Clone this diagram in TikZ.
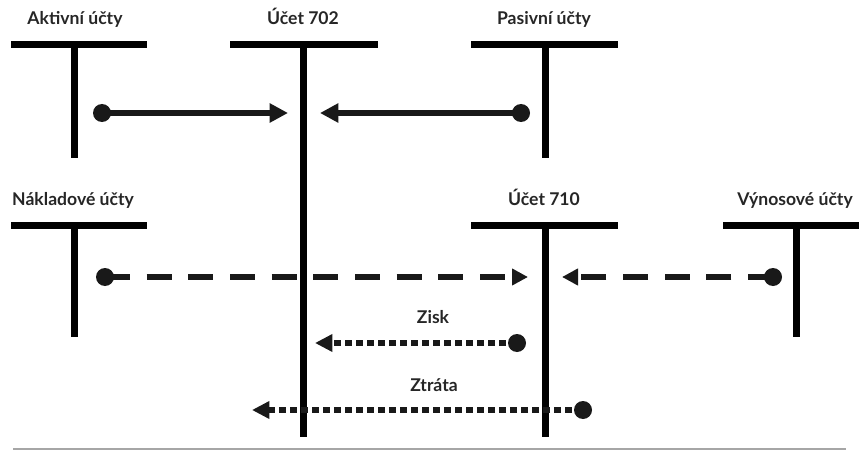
\documentclass[tikz,border=0pt]{standalone}
\usepackage{fontspec}
\setmainfont{Lato}
\usetikzlibrary{arrows.meta}

\begin{document}
\begin{tikzpicture}[
    x=0.03cm, y=-0.03cm,
    acct/.style={line width=0.21cm},
    lbl/.style={anchor=base, font=\bfseries\fontsize{15}{18}\selectfont, text=black!85},
    dot/.style={circle, fill=black!90, inner sep=0pt, minimum size=0.54cm},
    flow/.style={line width=0.18cm, black!90, -{Triangle[length=0.55cm, width=0.55cm]}},
    dashflow/.style={line width=0.19cm, black!90, dash pattern=on 0.75cm off 0.5cm, -{Triangle[length=0.48cm, width=0.48cm]}},
    dotflow/.style={line width=0.2cm, black!90, dash pattern=on 0.2cm off 0.13cm, -{Triangle[length=0.52cm, width=0.5cm]}}
]
    \useasboundingbox (0,0) rectangle (859,451);

    % T-accounts, first row
    \draw[acct] (11,45) -- (147,45) (74,45) -- (74,158);
    \draw[acct] (230,45) -- (378,45) (303,45) -- (303,437);
    \draw[acct] (471,45) -- (618,45) (545,45) -- (545,158);

    % T-accounts, second row
    \draw[acct] (11,225) -- (147,225) (74,225) -- (74,337);
    \draw[acct] (471,225) -- (618,225) (545,225) -- (545,437);
    \draw[acct] (723,225) -- (859,225) (796,225) -- (796,337);

    % Account titles
    \node[lbl] (aktivni) at (75,25) {Aktivní účty};
    \node[lbl] (u702) at (303,25) {Účet 702};
    \node[lbl] (pasivni) at (544,25) {Pasivní účty};
    \node[lbl] (naklad) at (73,205) {Nákladové účty};
    \node[lbl] (u710) at (544,205) {Účet 710};
    \node[lbl] (vynos) at (795,205) {Výnosové účty};

    % Dots (start of each transfer)
    \node[dot] (da) at (102,113) {};
    \node[dot] (dp) at (521,113) {};
    \node[dot] (dn) at (105,277) {};
    \node[dot] (dv) at (773,277) {};
    \node[dot] (dz) at (517,343) {};
    \node[dot] (dt) at (583,410) {};

    % Arrow ends
    \coordinate (ea) at (288,113);
    \coordinate (ep) at (320,113);
    \coordinate (en) at (528,277);
    \coordinate (ev) at (562,277);
    \coordinate (ez) at (315,343);
    \coordinate (et) at (252,410);

    % Transfers to 702
    \draw[flow] (da.center) -- (ea);
    \draw[flow] (dp.center) -- (ep);

    % Transfers to 710
    \draw[dashflow] (dn.center) -- (en);
    \draw[dashflow] (dv.center) -- (ev);

    % Result
    \draw[dotflow] (dz.center) -- (ez);
    \draw[dotflow] (dt.center) -- (et);
    \node[lbl] (zisk) at (433,323) {Zisk};
    \node[lbl] (ztrata) at (434,391) {Ztráta};

    % Bottom edge
    \draw[black!35, line width=0.05cm] (13,449) -- (846,449);
\end{tikzpicture}
\end{document}
